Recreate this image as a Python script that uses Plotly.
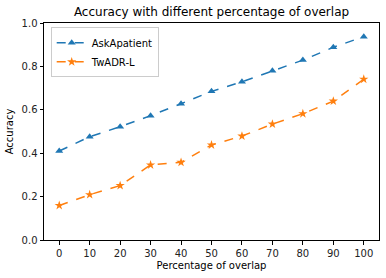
import plotly.graph_objects as go

overlap = [0, 10, 20, 30, 40, 50, 60, 70, 80, 90, 100]
askapatient = [0.41, 0.476, 0.522, 0.573, 0.628, 0.685, 0.729, 0.780, 0.829, 0.888, 0.937]
twadr_l = [0.159, 0.209, 0.251, 0.346, 0.358, 0.438, 0.479, 0.534, 0.582, 0.640, 0.741]
y_ticks = [0.0, 0.2, 0.4, 0.6, 0.8, 1.0]

fig = go.Figure()
fig.add_trace(go.Scatter(x=overlap, y=askapatient, mode="lines+markers", name="AskApatient",
                         line=dict(color="#1f77b4", dash="dash", width=1.5),
                         marker=dict(symbol="triangle-up", size=7, color="#1f77b4")))
fig.add_trace(go.Scatter(x=overlap, y=twadr_l, mode="lines+markers", name="TwADR-L",
                         line=dict(color="#ff7f0e", dash="dash", width=1.5),
                         marker=dict(symbol="star", size=7, color="#ff7f0e")))

axis_common = dict(showline=True, linecolor="black", linewidth=1, mirror=True,
                   ticks="outside", ticklen=3.5, tickcolor="black", showgrid=False,
                   zeroline=False, tickfont=dict(size=10, color="#222"))
fig.update_layout(
    width=386, height=278,
    margin=dict(l=44, r=7, t=23, b=38),
    paper_bgcolor="white", plot_bgcolor="white",
    font=dict(family="DejaVu Sans", size=10, color="black"),
    title=dict(text="Accuracy with different percentage of overlap", x=0.5, xref="paper",
               xanchor="center", y=1 - 12 / 278, yanchor="middle", font=dict(size=12)),
    xaxis=dict(range=[-5, 105], tickvals=overlap, title=dict(text="Percentage of overlap", standoff=4,
               font=dict(size=10)), **axis_common),
    yaxis=dict(range=[0, 1.0], tickvals=y_ticks, ticktext=[f"{v:.1f}" for v in y_ticks],
               title=dict(text="Accuracy", standoff=6, font=dict(size=10)), **axis_common),
    legend=dict(x=0.02, y=0.98, xanchor="left", yanchor="top", bordercolor="#ccc", borderwidth=1,
                bgcolor="rgba(255,255,255,0.8)", font=dict(size=10), tracegroupgap=0),
    showlegend=True,
)
fig.write_html("out.html")
